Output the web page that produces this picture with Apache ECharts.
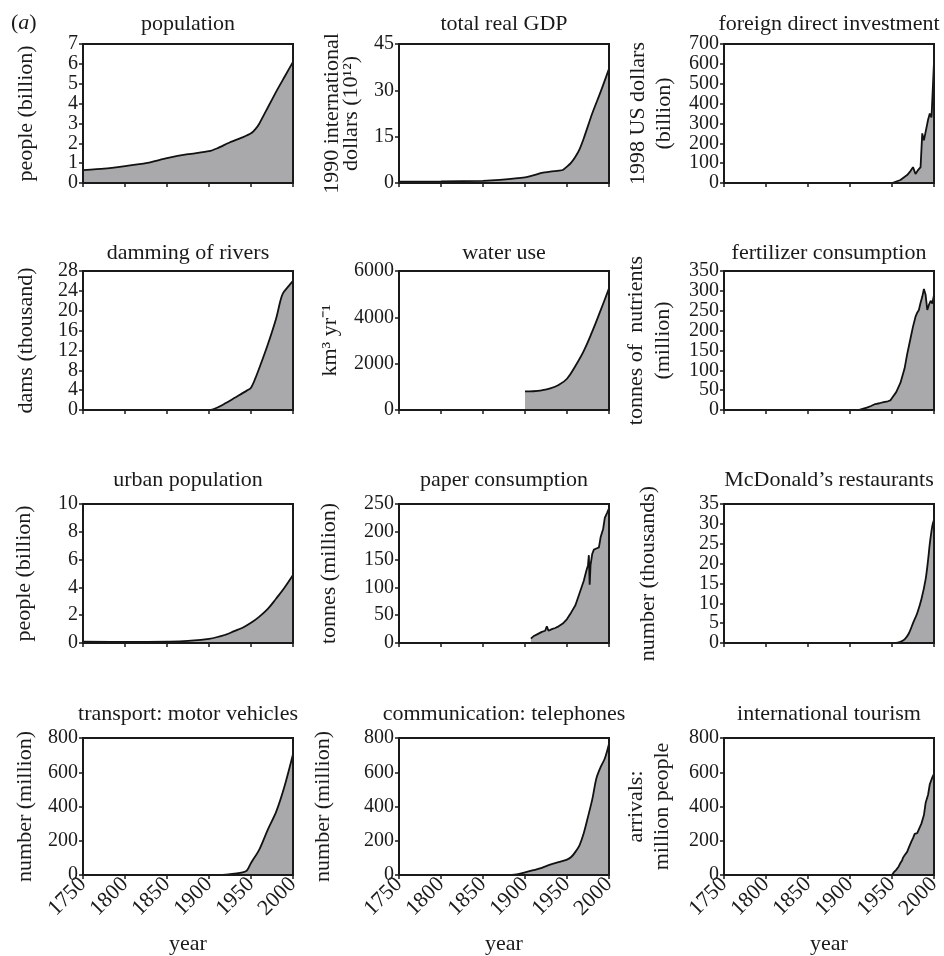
<!DOCTYPE html>
<html><head><meta charset="utf-8">
<script src="https://cdn.jsdelivr.net/npm/echarts@6/dist/echarts.min.js"></script>
<style>html,body{margin:0;padding:0;background:#fff}#c{width:944px;height:956px}</style>
</head><body><div id="c"></div>
<script>
// ---- data ----
const xMin = 1750, xMax = 2000, xStep = 50;
const titles = ['population','total real GDP','foreign direct investment','damming of rivers','water use','fertilizer consumption','urban population','paper consumption','McDonald\u2019s restaurants','transport: motor vehicles','communication: telephones','international tourism'];
const yNames = ['people (billion)','1990 international\ndollars (10\u00B9\u00B2)','1998 US dollars\n(billion)','dams (thousand)','km\u00B3 yr\u207B\u00B9','tonnes of  nutrients\n(million)','people (billion)','tonnes (million)','number (thousands)','number (million)','number (million)','arrivals:\nmillion people'];
const yMaxes = [7,45,700,28,6000,350,10,250,35,800,800,800];
const ySteps = [1,15,100,4,2000,50,2,50,5,200,200,200];

const popYears = [1750,1775,1800,1825,1850,1875,1900,1910,1925,1940,1950,1955,1960,1970,1980,1990,2000];
const popVals  = [0.65,0.72,0.85,1.0,1.25,1.45,1.6,1.75,2.05,2.3,2.5,2.7,3.0,3.8,4.6,5.35,6.1];
const gdpYears = [1750,1800,1850,1870,1900,1913,1920,1930,1940,1945,1950,1955,1960,1965,1970,1980,1990,2000];
const gdpVals  = [0.4,0.5,0.7,1.0,1.8,2.7,3.3,3.7,4.0,4.2,5.3,6.6,8.5,11,14.5,22.5,29.5,37];
const fdiYears = [1950,1960,1968,1972,1975,1978,1981,1984,1986,1988,1990,1993,1995,1997,1998,2000];
const fdiVals  = [0,15,40,60,80,45,65,80,250,215,210,320,350,330,420,610];
const damYears = [1750,1900,1910,1920,1930,1945,1950,1955,1960,1970,1980,1985,1988,1995,2000];
const damVals  = [0,0,0.5,1.4,2.4,3.9,4.5,6.3,8.5,13.2,18.5,22,23.5,25,26];
const waterYears = [1900,1910,1920,1930,1940,1950,1960,1970,1980,1990,2000];
const waterVals  = [800,810,850,930,1080,1350,1900,2550,3380,4300,5250];
const fertYears = [1910,1915,1920,1925,1930,1935,1940,1945,1948,1950,1955,1960,1965,1968,1970,1972,1975,1978,1980,1982,1984,1986,1988,1990,1992,1994,1996,1998,2000];
const fertVals  = [0,3,6,10,15,17,20,22,24,30,45,68,105,140,160,180,210,235,245,252,270,285,305,290,252,265,275,268,290];
const urbanYears = [1750,1800,1850,1875,1900,1920,1930,1940,1950,1960,1970,1980,1990,2000];
const urbanVals  = [0.1,0.08,0.1,0.15,0.3,0.6,0.85,1.1,1.45,1.9,2.45,3.2,4.0,4.9];
const paperYears = [1907,1910,1915,1920,1924,1926,1928,1932,1936,1940,1945,1950,1955,1960,1965,1970,1973,1975,1976,1977,1978,1980,1982,1985,1988,1990,1993,1995,1998,2000];
const paperVals  = [8,12,16,20,22,30,22,25,27,30,35,43,55,68,90,112,130,140,158,105,140,160,168,170,172,190,205,225,235,242];
const mcdYears = [1955,1960,1965,1970,1975,1980,1985,1990,1993,1995,1998,2000];
const mcdVals  = [0,0.3,0.9,2.4,5,7.5,11,16,21,25,29.5,31];
const motorYears = [1750,1900,1920,1930,1940,1945,1950,1960,1970,1980,1990,2000];
const motorVals  = [0,0,2,8,15,25,70,150,265,370,520,705];
const phoneYears = [1875,1890,1900,1910,1920,1930,1940,1950,1955,1960,1965,1970,1975,1980,1985,1990,1995,2000];
const phoneVals  = [0,4,15,28,42,60,75,90,105,135,175,245,340,440,565,630,680,765];
const tourYears = [1950,1952,1955,1958,1960,1962,1963,1965,1968,1970,1973,1975,1977,1980,1982,1985,1988,1990,1993,1995,1998,2000];
const tourVals  = [0,15,30,50,70,85,100,115,135,160,195,215,240,245,250,300,350,420,470,530,570,590];

const seriesYears = [popYears,gdpYears,fdiYears,damYears,waterYears,fertYears,urbanYears,paperYears,mcdYears,motorYears,phoneYears,tourYears];
const seriesVals  = [popVals,gdpVals,fdiVals,damVals,waterVals,fertVals,urbanVals,paperVals,mcdVals,motorVals,phoneVals,tourVals];

// ---- layout / style ----
const colLeft = [83,399,724];
const rowTop = [44,271,504,738];
const gw = 210, gh = 139;
const titleTop = [13,242,469,703];
const nameGaps = [46,38,47,46,58,47,48,59,65,47,65,49];
const nameLH = [22,19,26,22,22,27,22,22,22,22,22,26];
const smoothSet = [0.2,0.2,0,0.3,0.4,0,0.4,0,0.3,0.3,0.3,0];
const FONT = '"Liberation Serif", "Times New Roman", serif';
const FS = 22;
const TFS = 20;
const TXT = '#1a1a1a';
const plain = v => String(v);

const grid=[], xAxis=[], yAxis=[], series=[], title=[];
for (let i=0;i<12;i++){
  const r = Math.floor(i/3), c = i%3;
  const bottom = r===3;
  grid.push({left:colLeft[c], top:rowTop[r], width:gw, height:gh, show:true, z:5,
    backgroundColor:'transparent', borderColor:'#1a1a1a', borderWidth:2, containLabel:false});
  title.push({text:titles[i], left:colLeft[c]+gw/2, top:titleTop[r], textAlign:'center', padding:0,
    textStyle:{fontFamily:FONT, fontSize:FS, fontWeight:'normal', color:TXT}});
  xAxis.push({type:'value', gridIndex:i, min:xMin, max:xMax, interval:xStep,
    axisLine:{show:true, lineStyle:{color:'#1a1a1a', width:2}},
    axisTick:{show:true, inside:false, length:4, lineStyle:{color:'#1a1a1a', width:1.5}},
    axisLabel:{show:bottom, rotate:45, margin:6, formatter:plain, showMinLabel:true, showMaxLabel:true, hideOverlap:false,
      fontFamily:FONT, fontSize:FS, color:TXT},
    splitLine:{show:false},
    name: bottom ? 'year' : '', nameLocation:'middle', nameGap:58,
    nameTextStyle:{fontFamily:FONT, fontSize:FS, color:TXT}});
  yAxis.push({type:'value', gridIndex:i, min:0, max:yMaxes[i], interval:ySteps[i],
    axisLine:{show:true, lineStyle:{color:'#1a1a1a', width:2}},
    axisTick:{show:true, inside:false, length:4, lineStyle:{color:'#1a1a1a', width:1.5}},
    axisLabel:{margin:5, formatter:plain, showMinLabel:true, showMaxLabel:true, hideOverlap:false,
      textMargin:[-4,0], fontFamily:FONT, fontSize:TFS, lineHeight:16, color:TXT},
    splitLine:{show:false},
    name:yNames[i], nameLocation:'middle', nameGap:nameGaps[i],
    nameTextStyle:{fontFamily:FONT, fontSize:FS, color:TXT, lineHeight:nameLH[i]}});
  series.push({type:'line', xAxisIndex:i, yAxisIndex:i, showSymbol:false, smooth:smoothSet[i],
    data: seriesYears[i].map((y,k)=>[y, seriesVals[i][k]]),
    lineStyle:{color:'#111', width:1.8}, areaStyle:{color:'#a9a9ab', opacity:1}, z:2});
}

const chart = echarts.init(document.getElementById('c'), null, {renderer:'canvas'});
chart.setOption({
  backgroundColor:'#fff', animation:false,
  title, grid, xAxis, yAxis, series,
  graphic:[{type:'text', left:11, top:12, style:{text:'({it|a})', fontFamily:FONT, fontSize:FS, fill:TXT,
    rich:{it:{fontStyle:'italic', fontFamily:FONT, fontSize:FS, fill:TXT}}}}]
});
</script></body></html>
